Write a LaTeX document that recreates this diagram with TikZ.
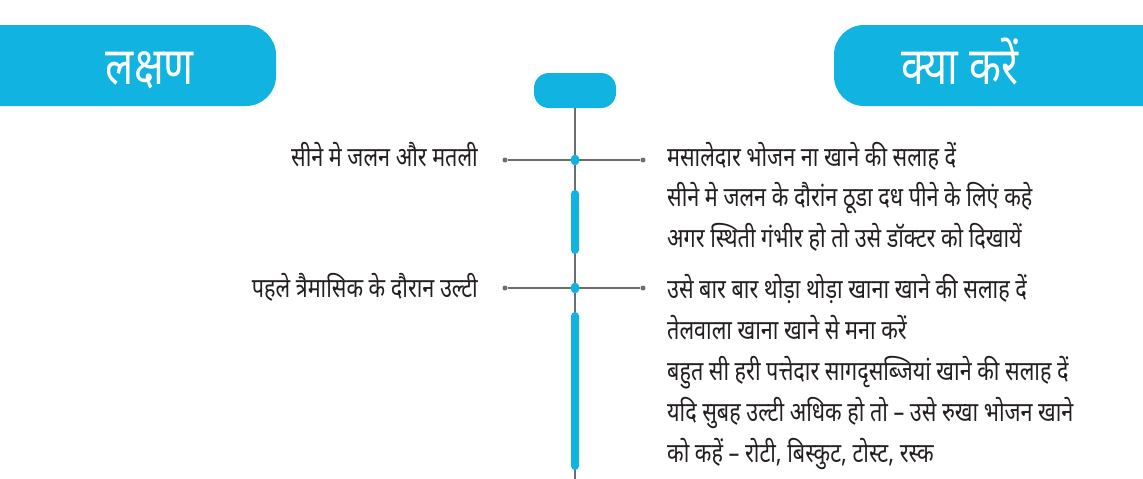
\documentclass[tikz,border=0pt]{standalone}
\usepackage{fontspec}
\usetikzlibrary{shapes.geometric}
\newfontfamily\hindi[Script=Devanagari,FakeStretch=0.8]{Noto Sans}
\definecolor{lblue}{RGB}{17,180,224}
\definecolor{lgray}{RGB}{109,110,113}
\definecolor{txt}{RGB}{35,31,32}

\begin{document}
\begin{tikzpicture}[x=1pt, y=-1pt]

\tikzstyle{head}=[text=white, inner sep=0pt, font=\hindi\fontsize{52}{56}\selectfont]
\tikzstyle{item}=[text=txt, inner sep=0pt, font=\hindi\fontsize{27}{30}\selectfont]
\tikzstyle{pill}=[fill=lblue, rounded corners=15pt, minimum width=82pt, minimum height=35pt, inner sep=0pt]
\tikzstyle{bar}=[fill=lblue, rounded corners=4pt, minimum width=8pt, inner sep=0pt]
\tikzstyle{gdot}=[circle, fill=lgray, minimum size=5pt, inner sep=0pt]
\tikzstyle{bdot}=[ellipse, fill=lblue, minimum width=9pt, minimum height=11pt, inner sep=0pt]
\tikzstyle{line}=[lgray, line width=1.5pt]

\useasboundingbox (0,0) rectangle (1143,479);

% headings
\fill [lblue, rounded corners=30pt] (-40,25) rectangle (276,106);
\fill [lblue, rounded corners=30pt] (834,25) rectangle (1183,106);
\node (L) [head, anchor=base] at (150,84) {लक्षण};
\node (R) [head, anchor=base] at (960,84) {क्या करें};

% time line
\node (P) [pill] at (575,90.5) {};
\coordinate (bot) at (575,479);
\draw [line] (P.south) -- (bot);
\node (s1) [bar, minimum height=64pt] at (575,222) {};
\node (s2) [bar, minimum height=158pt] at (575,391) {};

\node (a1) [gdot] at (505,160) {};
\node (b1) [gdot] at (643,160) {};
\draw [line] (a1) -- (b1);
\node (c1) [bdot] at (575,160) {};

\node (a2) [gdot] at (505,288) {};
\node (b2) [gdot] at (643,288) {};
\draw [line] (a2) -- (b2);
\node (c2) [bdot] at (575,288) {};

% symptoms
\node (x1) [item, anchor=base east] at (478,166) {सीने मे जलन और मतली};
\node (x2) [item, anchor=base east] at (478,297) {पहले त्रैमासिक के दौरान उल्टी};

% what to do
\node (y1) [item, anchor=base west] at (667,166) {मसालेदार भोजन ना खाने की सलाह दें};
\node (y2) [item, anchor=base west] at (667,206) {सीने मे जलन के दौरांन ठूडा दध पीने के लिएं कहे};
\node (y3) [item, anchor=base west] at (667,247) {अगर स्थिती गंभीर हो तो उसे डॉक्टर को दिखायें};

\node (z1) [item, anchor=base west] at (667,298) {उसे बार बार थोड़ा थोड़ा खाना खाने की सलाह दें};
\node (z2) [item, anchor=base west] at (667,339) {तेलवाला खाना खाने से मना करें};
\node (z3) [item, anchor=base west] at (667,380) {बहुत सी हरी पत्तेदार सागदृसब्जियां खाने की सलाह दें};
\node (z4) [item, anchor=base west] at (667,421) {यदि सुबह उल्टी अधिक हो तो – उसे रुखा भोजन खाने};
\node (z5) [item, anchor=base west] at (667,462) {को कहें – रोटी, बिस्कुट, टोस्ट, रस्क};

\end{tikzpicture}
\end{document}
